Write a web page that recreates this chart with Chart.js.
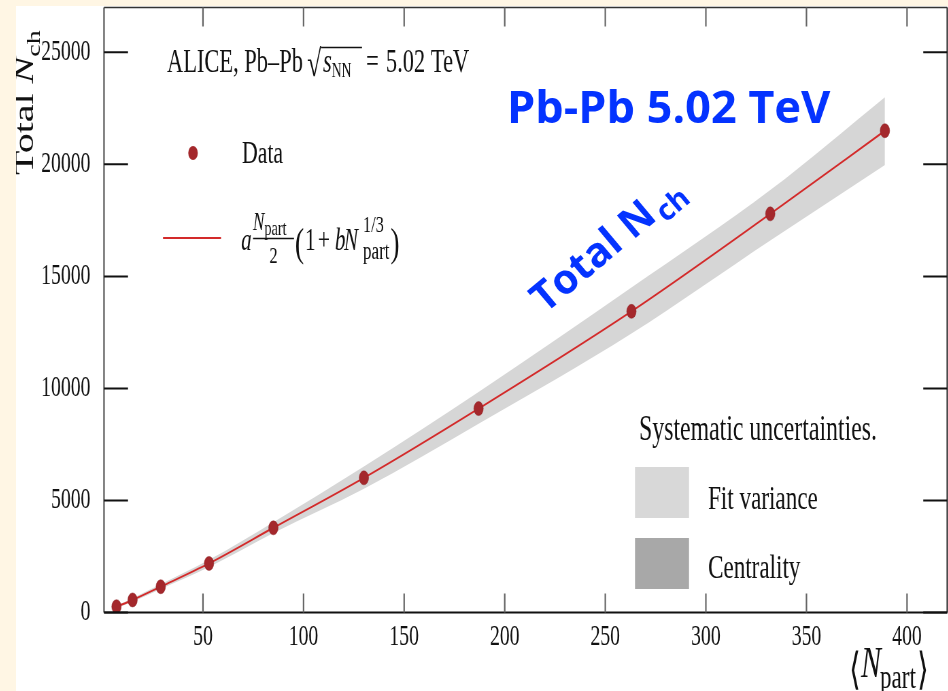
<!DOCTYPE html>
<html>
<head>
<meta charset="utf-8">
<script src="https://cdn.jsdelivr.net/npm/chart.js@4.4.1/dist/chart.umd.min.js"></script>
<style>
  html, body { margin: 0; padding: 0; background: #fff6e4; overflow: hidden; }
  #wrap { position: absolute; left: 16px; top: 0; width: 932px; height: 691px; overflow: hidden; }
  #chart { position: absolute; left: 0; top: 0; transform: scaleX(0.68); transform-origin: 0 0; }
</style>
</head>
<body>
<div id="wrap"><canvas id="chart" width="1377" height="691"></canvas></div>
<script>
// the source figure is squashed sideways, so the canvas is drawn wide and scaled down
const S = 0.68;
const LEFT = 16;
const X = (sx) => (sx - LEFT) / S;

const npart = [7, 15, 29, 53, 85, 130, 187, 263, 332, 389];
const nch = [260, 560, 1150, 2190, 3780, 6010, 9100, 13440, 17790, 21500];
const bandUpper = [300, 640, 1260, 2350, 4030, 6520, 9840, 14500, 18850, 23000];
const bandLower = [200, 480, 1050, 2030, 3550, 5520, 8420, 12450, 16600, 19970];
const xTicks = [50, 100, 150, 200, 250, 300, 350, 400];
const yTicks = [0, 5000, 10000, 15000, 20000, 25000];

const SERIF = '"Liberation Serif", "Times New Roman", serif';
const SANS = '"Open Sans", "Liberation Sans", sans-serif';
const BLUE = '#0433ff';
const POINT = '#a4282c';
const FIT = '#d32a2a';

const pts = (ys) => npart.map((v, i) => ({ x: v, y: ys[i] }));

function put(ctx, str, sx, y, size, style = '') {
  ctx.font = `${style} ${size}px ${SERIF}`;
  ctx.fillText(str, X(sx), y);
  return sx + ctx.measureText(str).width * S;
}

function seg(ctx, x1, y1, x2, y2, w, c) {
  ctx.beginPath();
  ctx.lineWidth = w;
  ctx.strokeStyle = c;
  ctx.moveTo(x1, y1);
  ctx.lineTo(x2, y2);
  ctx.stroke();
}

function noPad(s) {
  s.paddingTop = 0;
  s.paddingBottom = 0;
  s.paddingLeft = 0;
  s.paddingRight = 0;
}

const figure = {
  id: 'figure',
  beforeDraw(chart) {
    const ctx = chart.ctx;
    ctx.save();
    ctx.fillStyle = '#fff';
    ctx.fillRect(0, 6, chart.width, chart.height - 6);
    ctx.restore();
  },
  afterDraw(chart) {
    const { ctx, chartArea: a, scales: { x, y } } = chart;
    ctx.save();

    // frame
    seg(ctx, a.left, a.top, a.left, a.bottom, 2.2, '#555');
    seg(ctx, a.right, a.top, a.right, a.bottom, 2.2, '#333');
    seg(ctx, a.left, a.top, a.right, a.top, 1.5, '#333');
    seg(ctx, a.left, a.bottom, a.right, a.bottom, 2, '#111');

    // inner ticks on all four sides
    yTicks.forEach((v) => {
      const py = y.getPixelForValue(v);
      seg(ctx, a.left, py, a.left + 24 / S, py, 2, '#111');
      seg(ctx, a.right - 24 / S, py, a.right, py, 2, '#111');
    });
    xTicks.forEach((v) => {
      const px = x.getPixelForValue(v);
      seg(ctx, px, a.bottom, px, a.bottom - 19, 2.2, '#666');
      seg(ctx, px, a.top, px, a.top + 19, 2.2, '#666');
    });

    ctx.fillStyle = '#111';
    ctx.textBaseline = 'alphabetic';
    ctx.textAlign = 'left';

    // title
    put(ctx, 'ALICE, Pb\u2013Pb', 167, 72, 33);
    put(ctx, '\u221A', 307, 76, 38);
    seg(ctx, X(321), 47.5, X(362), 47.5, 1.3, '#111');
    const cx = put(ctx, 's', 323, 72, 33, 'italic');
    put(ctx, 'NN', cx, 77, 20);
    put(ctx, '=', 366, 72, 33);
    put(ctx, '5.02 TeV', 386, 72, 33);

    // legend: data
    ctx.fillStyle = POINT;
    ctx.beginPath();
    ctx.arc(X(193), 153, 7, 0, Math.PI * 2);
    ctx.fill();
    ctx.fillStyle = '#111';
    put(ctx, 'Data', 242, 163, 32);

    // legend: fit
    seg(ctx, X(163), 238, X(221), 238, 2, FIT);
    put(ctx, 'a', 241, 250, 31, 'italic');
    const nx = put(ctx, 'N', 253, 230, 25, 'italic');
    put(ctx, 'part', nx, 235, 21);
    seg(ctx, X(253), 238.5, X(294), 238.5, 1.3, '#111');
    ctx.textAlign = 'center';
    put(ctx, '2', 273.5, 263, 24);
    ctx.textAlign = 'left';
    put(ctx, '(', 295, 256, 40);
    put(ctx, '1', 305, 250, 31);
    put(ctx, '+', 318, 250, 31);
    put(ctx, 'b', 335, 250, 31, 'italic');
    put(ctx, 'N', 344, 250, 31, 'italic');
    put(ctx, '1/3', 363, 232, 24);
    const px = put(ctx, 'part', 363, 259, 25);
    put(ctx, ')', px + 1, 256, 40);

    // systematic uncertainties box
    put(ctx, 'Systematic uncertainties.', 639, 440, 35);
    ctx.fillStyle = '#d8d8d8';
    ctx.fillRect(X(635), 467, 54 / S, 51);
    ctx.fillStyle = '#a8a8a8';
    ctx.fillRect(X(635), 538, 54 / S, 51);
    ctx.fillStyle = '#111';
    put(ctx, 'Fit variance', 708, 509, 34);
    put(ctx, 'Centrality', 708, 578, 34);

    // x axis title
    put(ctx, '\u27E8', 849, 684, 44);
    const ax = put(ctx, 'N', 861, 677, 44, 'italic');
    const bx = put(ctx, 'part', ax - 1, 688, 34);
    put(ctx, '\u27E9', bx + 1, 684, 44);

    // y axis title
    ctx.save();
    ctx.translate(X(33), 175);
    ctx.rotate(-Math.PI / 2);
    ctx.font = `40px ${SERIF}`;
    ctx.fillText('Total ', 0, 0);
    let w = ctx.measureText('Total ').width;
    ctx.font = `italic 40px ${SERIF}`;
    ctx.fillText('N', w, 0);
    w += ctx.measureText('N').width;
    ctx.font = `28px ${SERIF}`;
    ctx.fillText('ch', w, 10);
    ctx.restore();

    // blue slide annotations, not squashed
    ctx.save();
    ctx.scale(1 / S, 1);
    ctx.fillStyle = BLUE;
    ctx.font = `bold 45px ${SANS}`;
    ctx.fillText('Pb-Pb 5.02 TeV', 507 - LEFT, 123);
    ctx.translate(545 - LEFT, 314);
    ctx.rotate(-40 * Math.PI / 180);
    ctx.font = `bold 41px ${SANS}`;
    ctx.fillText('Total N', 0, 0);
    const tw = ctx.measureText('Total N').width;
    ctx.font = `bold 29px ${SANS}`;
    ctx.fillText('ch', tw + 3, 8);
    ctx.restore();

    ctx.restore();
  }
};

new Chart(document.getElementById('chart'), {
  type: 'scatter',
  data: {
    datasets: [
      {
        label: 'Data',
        data: pts(nch),
        backgroundColor: POINT,
        borderColor: '#8c1f23',
        borderWidth: 0.5,
        pointRadius: 7,
        order: 0,
      },
      {
        label: 'Fit',
        data: pts(nch),
        showLine: true,
        borderColor: FIT,
        borderWidth: 2,
        pointRadius: 0,
        cubicInterpolationMode: 'monotone',
        order: 1,
      },
      {
        label: 'Band upper',
        data: pts(bandUpper),
        showLine: true,
        borderWidth: 0,
        pointRadius: 0,
        backgroundColor: '#d6d6d6',
        fill: '+1',
        cubicInterpolationMode: 'monotone',
        order: 2,
      },
      {
        label: 'Band lower',
        data: pts(bandLower),
        showLine: true,
        borderWidth: 0,
        pointRadius: 0,
        cubicInterpolationMode: 'monotone',
        order: 3,
      },
    ],
  },
  options: {
    responsive: false,
    animation: false,
    devicePixelRatio: 1,
    layout: { padding: { left: 0, right: 0, top: 6, bottom: 0 } },
    plugins: { legend: { display: false }, tooltip: { enabled: false } },
    scales: {
      x: {
        type: 'linear',
        min: 0.8,
        max: 420,
        afterBuildTicks: (s) => { s.ticks = xTicks.map((v) => ({ value: v })); },
        afterFit: (s) => { s.height = 78.5; noPad(s); },
        grid: { display: false, drawTicks: false },
        border: { display: false },
        ticks: {
          autoSkip: false,
          maxRotation: 0,
          padding: 7,
          color: '#111',
          font: { family: SERIF, size: 29 },
        },
      },
      y: {
        type: 'linear',
        min: 0,
        max: 27000,
        afterBuildTicks: (s) => { s.ticks = yTicks.map((v) => ({ value: v })); },
        afterFit: (s) => { s.width = (104 - LEFT) / S; noPad(s); },
        grid: { display: false, drawTicks: false },
        border: { display: false },
        ticks: {
          padding: 20,
          color: '#111',
          font: { family: SERIF, size: 29 },
          callback: (v) => String(v),
        },
      },
    },
  },
  plugins: [figure],
});
</script>
</body>
</html>
